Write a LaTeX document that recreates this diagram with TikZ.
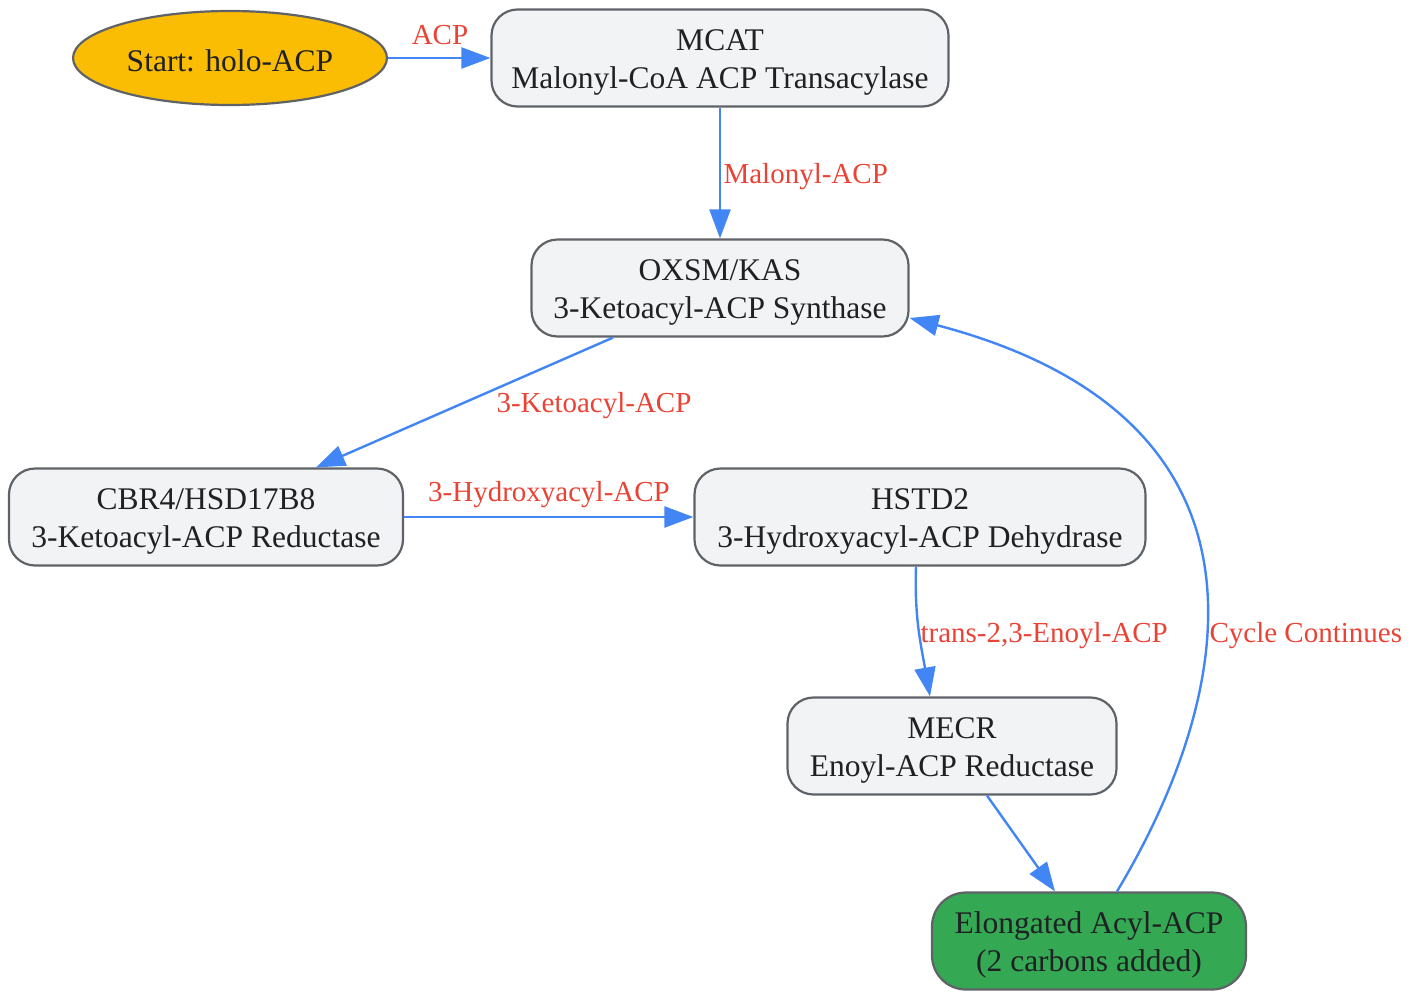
\documentclass[tikz,border=0pt]{standalone}
\usepackage{fontspec}
\setmainfont{Liberation Serif}
\usetikzlibrary{arrows.meta,shapes.geometric,positioning}

\definecolor{stepfill}{HTML}{F1F3F4}
\definecolor{edgegray}{HTML}{5F6368}
\definecolor{inkgray}{HTML}{202124}
\definecolor{flowblue}{HTML}{4285F4}
\definecolor{labelred}{HTML}{EA4335}
\definecolor{startyellow}{HTML}{FBBC04}
\definecolor{endgreen}{HTML}{34A853}

\newcommand{\topstrut}{\rule{0pt}{31pt}}   %first line height
\newcommand{\botstrut}{\rule[-8pt]{0pt}{8pt}} %last line depth

\begin{document}
\begin{tikzpicture}[x=1pt,y=-1pt,
    enzyme/.style={draw=edgegray, line width=2.2pt, fill=stepfill, rounded corners=26pt,
      align=center, minimum height=97pt, text=inkgray, font=\fontsize{31.5}{38}\selectfont},
    flow/.style={draw=flowblue, line width=2.4pt, -{Triangle[length=29pt,width=21pt]}},
    lbl/.style={text=labelred, font=\fontsize{29}{34}\selectfont}]
  \pgfmathsetmacro {\cx}{720}   %main column
  \pgfmathsetmacro {\ra}{58}    %row 1
  \pgfmathsetmacro {\rb}{288}   %row 2
  \pgfmathsetmacro {\rc}{517}   %row 3
  \pgfmathsetmacro {\rd}{746}   %row 4
  \pgfmathsetmacro {\re}{941}   %row 5

  \useasboundingbox (0,0) rectangle (1419,991) ; %Page frame

  %Draw the enzymes
  \node[ellipse, draw=edgegray, line width=2.2pt, fill=startyellow, text=inkgray,
    minimum width=314pt, minimum height=94pt, text height=27pt, text depth=0pt,
    font=\fontsize{31.5}{38}\selectfont]
    (start) at (230,\ra) {Start: holo-ACP};
  \node[enzyme, minimum width=457pt] (mcat) at (\cx,\ra) {\topstrut MCAT\\Malonyl-CoA ACP Transacylase\botstrut};
  \node[enzyme, minimum width=377pt] (oxsm) at (\cx,\rb) {\topstrut OXSM/KAS\\3-Ketoacyl-ACP Synthase\botstrut};
  \node[enzyme, minimum width=394pt] (cbr) at (206,\rc) {\topstrut CBR4/HSD17B8\\3-Ketoacyl-ACP Reductase\botstrut};
  \node[enzyme, minimum width=451pt] (hstd) at (920,\rc) {\topstrut HSTD2\\3-Hydroxyacyl-ACP Dehydrase\botstrut};
  \node[enzyme, minimum width=329pt] (mecr) at (952,\rd) {\topstrut MECR\\Enoyl-ACP Reductase\botstrut};
  \node[enzyme, minimum width=314pt, fill=endgreen, rounded corners=34pt]
    (elong) at (1089,\re) {\topstrut Elongated Acyl-ACP\\(2 carbons added)\botstrut};

  %Draw the flow
  \draw[flow] (start) -- (mcat) ;
  \draw[flow] (mcat) -- (oxsm) ;
  \draw[flow] ([xshift=-107pt]oxsm.south) -- ([xshift=110pt]cbr.north) ;
  \draw[flow] (cbr) -- (hstd) ;
  \draw[flow] ([xshift=-4pt]hstd.south) to[out=-92,in=100] ([xshift=-22pt]mecr.north) ;
  \draw[flow] ([xshift=35pt]mecr.south) -- ([xshift=-34pt]elong.north) ;
  \draw[flow] ([xshift=28pt]elong.north) .. controls (1232,700) and (1298,420) .. ([yshift=-30pt]oxsm.east) ;

  %Edge labels
  \node[lbl] (lacp) at (440,35) {ACP};
  \node[lbl, anchor=west] (lmal) at (720,177) {Malonyl-ACP};
  \node[lbl] (lket) at (594,406) {3-Ketoacyl-ACP};
  \node[lbl] (lhyd) at (549,495) {3-Hydroxyacyl-ACP};
  \node[lbl, anchor=west] (lenoyl) at (917,636) {trans-2,3-Enoyl-ACP};
  \node[lbl, anchor=west] (lcyc) at (1206,636) {Cycle Continues};
\end{tikzpicture}
\end{document}
